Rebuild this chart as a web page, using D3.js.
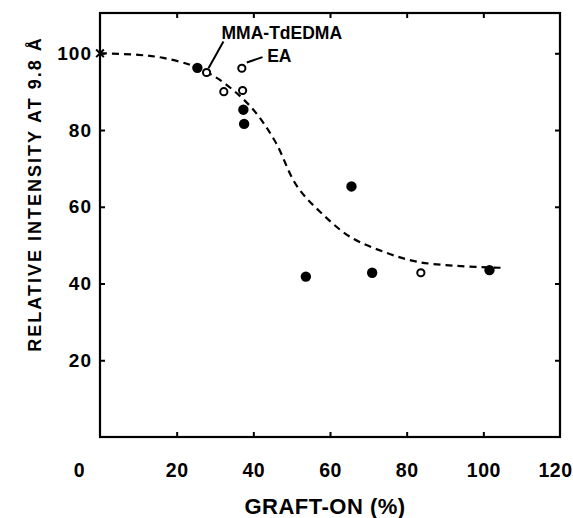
<!DOCTYPE html>
<html>
<head>
<meta charset="utf-8">
<script src="https://cdn.jsdelivr.net/npm/d3@7"></script>
<style>
  body { margin: 0; background: #fff; }
  svg { display: block; }
  text { font-family: "Liberation Sans", Arial, sans-serif; fill: #000; }
</style>
</head>
<body>
<svg id="chart" width="573" height="518"></svg>
<script>
// values
const xTicks = [0, 20, 40, 60, 80, 100, 120];
const yTicks = [20, 40, 60, 80, 100];

// MMA-TdEDMA, filled circles
const mmaPoints = [
  [25.4, 96.2], [37.4, 85.3], [37.6, 81.6], [53.7, 41.8],
  [65.6, 65.3], [71.0, 42.8], [101.6, 43.5]
];
// EA, open circles
const eaPoints = [
  [27.8, 95.0], [32.3, 90.0], [37.0, 96.1], [37.2, 90.3], [83.7, 42.8]
];
// dashed guide curve
const curvePoints = [
  [0, 100], [10, 99.6], [16.5, 98.8], [23.5, 97.0], [28, 95.0], [33, 91.8],
  [40, 85.3], [45.7, 77.0], [51.3, 65.5], [57.4, 58.7], [65.2, 52.2],
  [73.9, 48.3], [82.6, 45.7], [93, 44.6], [104.8, 44.1]
];
const startMark = [0, 100];

// labels with leader lines (data coords)
const labels = [
  {text: "MMA-TdEDMA", at: [31.7, 103.6], line: [[32.2, 103.1], [28.3, 96.1]]},
  {text: "EA", at: [43.6, 97.6], line: [[38.3, 97.6], [42.4, 99.0]]}
];

const svg = d3.select("#chart");
const x = d3.scaleLinear().domain([0, 120]).range([100, 560]);
const y = d3.scaleLinear().domain([0, 110.5]).range([437, 13]);

// frame
svg.append("rect")
  .attr("x", x(0)).attr("y", y(110.5))
  .attr("width", x(120) - x(0)).attr("height", y(0) - y(110.5))
  .attr("fill", "none").attr("stroke", "#000").attr("stroke-width", 2.2);

// bottom axis with labels
const gx = svg.append("g")
  .attr("transform", `translate(0,${y(0)})`)
  .call(d3.axisBottom(x).tickValues(xTicks).tickSizeInner(-5).tickSizeOuter(0).tickPadding(26));
gx.select(".domain").remove();
gx.selectAll("line").attr("stroke-width", 2);
gx.selectAll("text")
  .attr("font-size", 19.5).attr("font-weight", "bold").attr("letter-spacing", 0.5)
  .attr("dx", d => d === 0 ? -21 : d === 120 ? -5 : 0);
gx.selectAll(".tick").filter(d => d === 0 || d === 120).select("line").remove();

// left axis with labels
const gy = svg.append("g")
  .attr("transform", `translate(${x(0)},0)`)
  .call(d3.axisLeft(y).tickValues(yTicks).tickSizeInner(-5).tickSizeOuter(0).tickPadding(8));
gy.select(".domain").remove();
gy.selectAll("line").attr("stroke-width", 2);
gy.selectAll("text")
  .attr("font-size", 19).attr("font-weight", "bold").attr("letter-spacing", 1);

// top and right ticks only
const gt = svg.append("g")
  .attr("transform", `translate(0,${y(110.5)})`)
  .call(d3.axisTop(x).tickValues([20, 40, 60, 80, 100]).tickSizeInner(-5).tickSizeOuter(0).tickFormat(""));
gt.select(".domain").remove();
gt.selectAll("line").attr("stroke-width", 2);

const gr = svg.append("g")
  .attr("transform", `translate(${x(120)},0)`)
  .call(d3.axisRight(y).tickValues(yTicks).tickSizeInner(-5).tickSizeOuter(0).tickFormat(""));
gr.select(".domain").remove();
gr.selectAll("line").attr("stroke-width", 2);

// axis titles
svg.append("text")
  .attr("transform", "translate(35,194) rotate(-90)")
  .attr("text-anchor", "middle").attr("dominant-baseline", "central")
  .attr("font-size", 18).attr("font-weight", "bold").attr("letter-spacing", 2)
  .text("RELATIVE INTENSITY AT 9.8 Å");

svg.append("text")
  .attr("x", 325).attr("y", 514)
  .attr("text-anchor", "middle")
  .attr("font-size", 22).attr("font-weight", "bold").attr("letter-spacing", 0.5)
  .text("GRAFT-ON (%)");

// dashed curve
const line = d3.line().x(d => x(d[0])).y(d => y(d[1])).curve(d3.curveCatmullRom.alpha(0.5));
svg.append("path")
  .datum(curvePoints)
  .attr("d", line)
  .attr("fill", "none").attr("stroke", "#000")
  .attr("stroke-width", 2.2).attr("stroke-dasharray", "7,5");

// start mark
svg.append("path")
  .attr("transform", `translate(${x(startMark[0])},${y(startMark[1])})`)
  .attr("d", d3.symbol(d3.symbolTimes || d3.symbolCross, 40)())
  .attr("fill", "none").attr("stroke", "#000").attr("stroke-width", 2);

// points
svg.append("g").selectAll("circle")
  .data(mmaPoints).join("circle")
  .attr("cx", d => x(d[0])).attr("cy", d => y(d[1]))
  .attr("r", 5.2).attr("fill", "#000");

svg.append("g").selectAll("circle")
  .data(eaPoints).join("circle")
  .attr("cx", d => x(d[0])).attr("cy", d => y(d[1]))
  .attr("r", 3.6).attr("fill", "#fff").attr("stroke", "#000").attr("stroke-width", 2);

// annotations
labels.forEach(l => {
  svg.append("line")
    .attr("x1", x(l.line[0][0])).attr("y1", y(l.line[0][1]))
    .attr("x2", x(l.line[1][0])).attr("y2", y(l.line[1][1]))
    .attr("stroke", "#000").attr("stroke-width", 2);
  svg.append("text")
    .attr("x", x(l.at[0])).attr("y", y(l.at[1]))
    .attr("font-size", 17.5).attr("font-weight", "bold")
    .text(l.text);
});
</script>
</body>
</html>
